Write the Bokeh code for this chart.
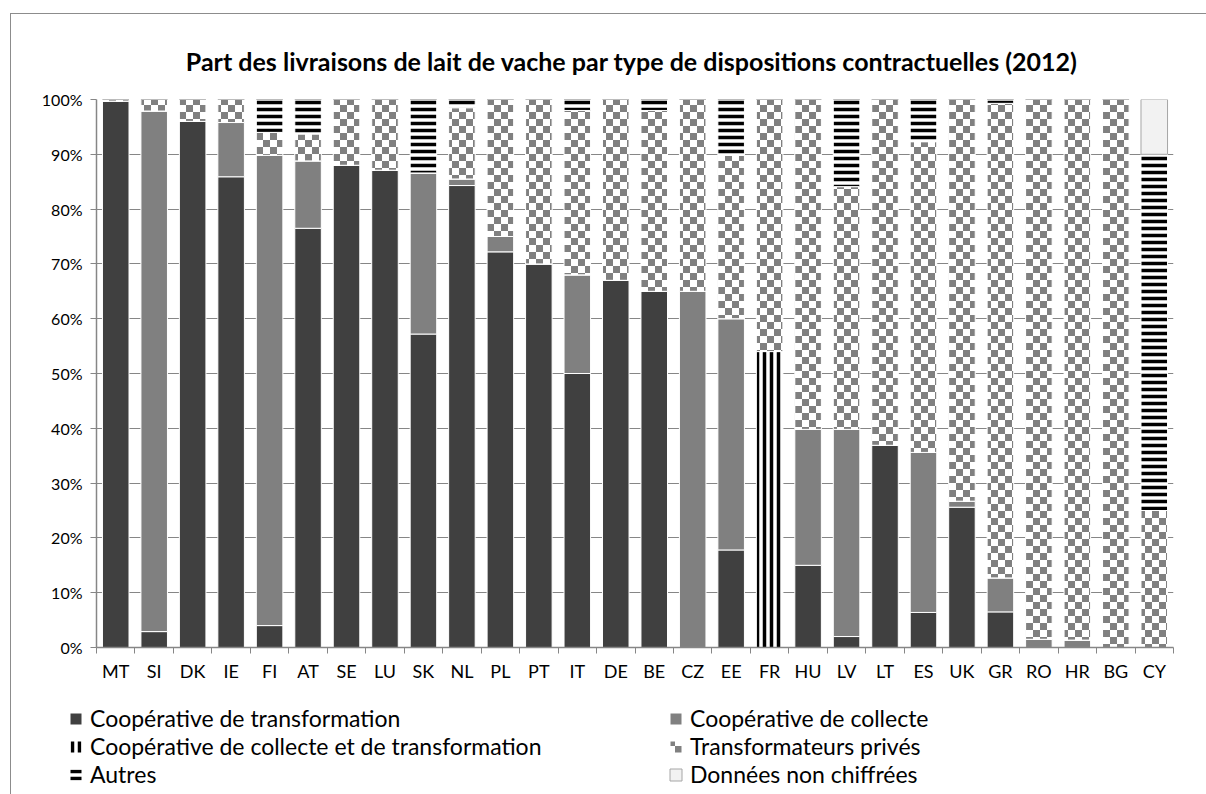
from bokeh.plotting import figure
from bokeh.layouts import column
from bokeh.models import (Range1d, FixedTicker, SingleIntervalTicker, PrintfTickFormatter,
                          ColumnDataSource, Legend, LegendItem, ImageURLTexture)
from bokeh.core.properties import value
from bokeh.embed import file_html
from bokeh.resources import INLINE

# ---------------- data (percent of cow milk deliveries) ----------------
countries = ["MT", "SI", "DK", "IE", "FI", "AT", "SE", "LU", "SK", "NL", "PL", "PT", "IT", "DE",
             "BE", "CZ", "EE", "FR", "HU", "LV", "LT", "ES", "UK", "GR", "RO", "HR", "BG", "CY"]
coop_transformation = [99.7, 2.9, 96.0, 85.9, 4.0, 76.5, 88.0, 87.1, 57.2, 84.3, 72.2, 70.0, 50.0, 67.0,
                       65.0, 0, 17.8, 0, 15.0, 2.0, 36.9, 6.4, 25.6, 6.5, 0, 0, 0, 0]
coop_collecte = [0, 95.0, 0, 9.9, 85.8, 12.3, 0, 0, 29.4, 1.2, 2.8, 0, 18.0, 0,
                 0, 65.0, 42.2, 0, 24.8, 37.8, 0, 29.2, 1.1, 6.2, 1.5, 1.35, 0, 0]
coop_collecte_transformation = [0, 0, 0, 0, 0, 0, 0, 0, 0, 0, 0, 0, 0, 0,
                                0, 0, 0, 54.0, 0, 0, 0, 0, 0, 0, 0, 0, 0, 0]
transformateurs_prives = [0.3, 2.1, 4.0, 4.2, 4.2, 4.9, 12.0, 12.9, 0, 13.0, 25.0, 30.0, 30.0, 33.0,
                          33.0, 35.0, 29.8, 46.0, 60.2, 44.3, 63.1, 56.7, 73.3, 86.6, 98.5, 98.65, 100.0, 25.0]
autres = [0, 0, 0, 0, 6.0, 6.3, 0, 0, 13.4, 1.5, 0, 0, 2.0, 0,
          2.0, 0, 10.2, 0, 0, 15.9, 0, 7.7, 0, 0.7, 0, 0, 0, 65.0]
non_chiffrees = [0, 0, 0, 0, 0, 0, 0, 0, 0, 0, 0, 0, 0, 0,
                 0, 0, 0, 0, 0, 0, 0, 0, 0, 0, 0, 0, 0, 10.0]

series_labels = ["Coopérative de transformation", "Coopérative de collecte",
                 "Coopérative de collecte et de transformation", "Transformateurs privés",
                 "Autres", "Données non chiffrées"]
title_text = "Part des livraisons de lait de vache par type de dispositions contractuelles  (2012)"

FONT = "Lato"
AXIS_COLOR = "#868686"

# series styles
fill_colors = ["#404040", "#808080", "white", "white", "white", "#f2f2f2"]
line_colors = ["white", "white", "white", "white", "white", "#a6a6a6"]
hatch_patterns = [" ", " ", "|", "checker", "-", " "]
hatch_colors = ["black", "black", "black", "#808080", "black", "black"]
hatch_scales = [7, 7, 7, 14, 7, 7]
hatch_weights = [3.5, 3.5, 3.5, 1, 3.5, 1]

checker = ImageURLTexture(url=(
    "data:image/svg+xml;utf8,<svg xmlns='http://www.w3.org/2000/svg' width='14' height='14'>"
    "<rect x='0' y='0' width='7' height='7' fill='%23808080'/>"
    "<rect x='7' y='7' width='7' height='7' fill='%23808080'/></svg>"))

x_centers = [i + 0.5 for i in range(len(countries))]
source = ColumnDataSource(dict(
    x=x_centers,
    s0=coop_transformation,
    s1=coop_collecte,
    s2=coop_collecte_transformation,
    s3=transformateurs_prives,
    s4=autres,
    s5=non_chiffrees,
))
stackers = ["s0", "s1", "s2", "s3", "s4", "s5"]

W = 1195
p = figure(width=W, height=690,
           x_range=Range1d(0, len(countries)), y_range=Range1d(0, 100),
           output_backend="svg", toolbar_location=None,
           min_border_left=85, min_border_right=33, min_border_top=85, min_border_bottom=57)
p.outline_line_color = None
p.background_fill_color = "white"
p.border_fill_color = "white"

# title
p.title.text = title_text
p.title.align = "center"
p.title.vertical_align = "top"
p.title.text_font = FONT
p.title.text_font_style = "bold"
p.title.text_font_size = "25px"
p.title.text_color = "black"
p.title.standoff = 44

renderers = p.vbar_stack(
    stackers, x="x", width=0.69, source=source,
    fill_color=fill_colors,
    line_color=line_colors,
    line_width=1,
    hatch_pattern=[value(h) for h in hatch_patterns],
    hatch_color=hatch_colors,
    hatch_scale=hatch_scales,
    hatch_weight=hatch_weights,
    hatch_extra={"checker": checker},
)

# axes
xaxis = p.xaxis[0]
xaxis.ticker = FixedTicker(ticks=x_centers, minor_ticks=list(range(len(countries) + 1)))
xaxis.major_label_overrides = {x: c for x, c in zip(x_centers, countries)}
xaxis.major_tick_out = 0
xaxis.major_tick_in = 0
xaxis.minor_tick_out = 6
xaxis.minor_tick_in = 0
xaxis.minor_tick_line_color = AXIS_COLOR
xaxis.axis_line_color = AXIS_COLOR
xaxis.axis_line_width = 1.5
xaxis.major_label_text_font = FONT
xaxis.major_label_text_font_size = "18px"
xaxis.major_label_text_color = "black"
xaxis.major_label_standoff = 6

yaxis = p.yaxis[0]
yaxis.ticker = SingleIntervalTicker(interval=10, num_minor_ticks=0)
yaxis.formatter = PrintfTickFormatter(format="%d%%")
yaxis.major_tick_out = 6
yaxis.major_tick_in = 0
yaxis.minor_tick_line_color = None
yaxis.major_tick_line_color = AXIS_COLOR
yaxis.axis_line_color = AXIS_COLOR
yaxis.axis_line_width = 1.5
yaxis.major_label_text_font = FONT
yaxis.major_label_text_font_size = "16px"
yaxis.major_label_text_color = "black"
yaxis.major_label_standoff = 8

p.xgrid.grid_line_color = None
p.ygrid.grid_line_color = AXIS_COLOR
p.ygrid.grid_line_width = 1
p.ygrid.ticker = SingleIntervalTicker(interval=10, num_minor_ticks=0)

# ---------------- legend panel (two columns, three rows) ----------------
q = figure(width=W, height=90, x_range=Range1d(0, 1), y_range=Range1d(0, 1),
           output_backend="svg", toolbar_location=None, min_border=0,
           x_axis_type=None, y_axis_type=None)
q.outline_line_color = None
q.background_fill_color = "white"
q.border_fill_color = "white"
for fig in (p, q):
    try:
        fig.frame_align = False
    except Exception:
        pass

# legend proxies: one hidden bar each (outside the legend panel's range)
proxy_source = ColumnDataSource(dict(x=[-1.0], top=[0.0]))
proxies = []
for i in range(len(series_labels)):
    r = q.vbar(x="x", top="top", width=0.01, source=proxy_source,
               fill_color=fill_colors[i], line_color=line_colors[i], line_width=1,
               hatch_pattern=value(hatch_patterns[i]), hatch_color=hatch_colors[i],
               hatch_scale=hatch_scales[i], hatch_weight=hatch_weights[i],
               hatch_extra={"checker": checker})
    proxies.append(r)

items = [LegendItem(label=lbl, renderers=[r]) for lbl, r in zip(series_labels, proxies)]
legend = Legend(items=items, location=(57, 6), orientation="horizontal", ncols=2,
                label_text_font=FONT, label_text_font_size="23px", label_text_color="black",
                glyph_width=15, glyph_height=15, label_standoff=7, label_width=578,
                label_height=20, spacing=0, padding=0, margin=0,
                border_line_color=None, background_fill_alpha=0)
q.add_layout(legend, "center")

layout = column(p, q, spacing=0,
                styles={"margin-left": "10px", "margin-top": "13px",
                        "border-left": "1px solid #8c8c8c", "border-top": "1px solid #8c8c8c"})

open("out.html", "w").write(file_html(layout, INLINE))
